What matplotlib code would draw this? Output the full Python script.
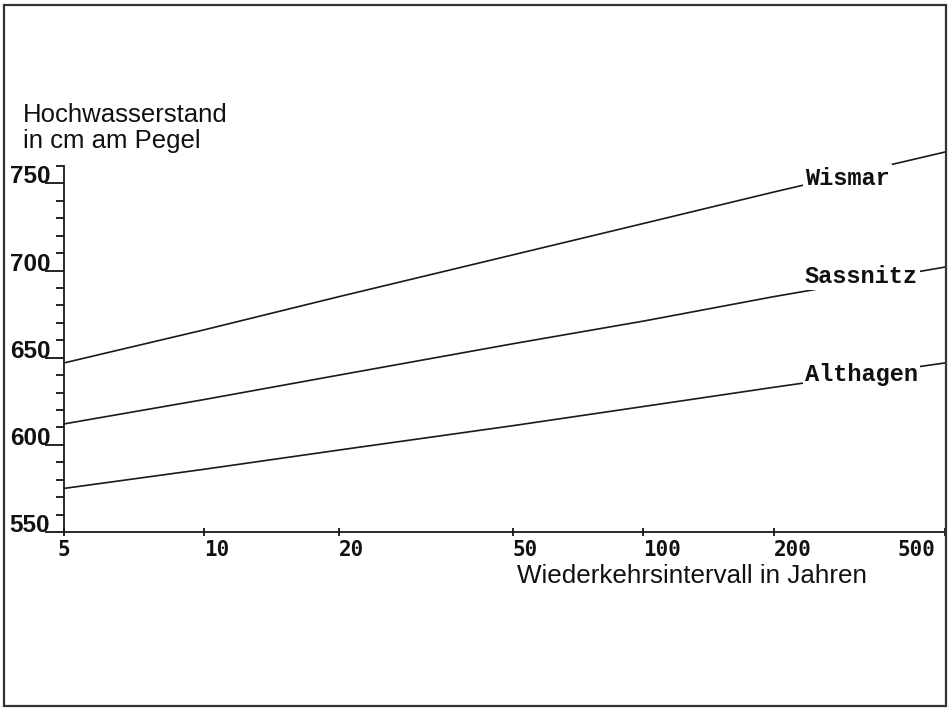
import numpy as np
import matplotlib
matplotlib.use('Agg')
import matplotlib.pyplot as plt
import matplotlib.transforms as mtransforms
from matplotlib.patches import Rectangle

# return periods (years) and flood levels (cm at gauge)
jahre = [5, 10, 20, 50, 100, 200, 500]
wismar = [647, 666, 685, 709, 727, 745, 768]
sassnitz = [612, 626, 640, 658, 671, 685, 702]
althagen = [575, 586, 597, 611, 622, 633, 647]
stationen = ['Wismar', 'Sassnitz', 'Althagen']

y_major = [550, 600, 650, 700, 750]
y_minor = np.arange(550, 761, 10)


# Gumbel reduced variate for the return period axis
def gumbel(t):
    t = np.asarray(t, dtype=float)
    with np.errstate(divide='ignore', invalid='ignore'):
        return -np.log(-np.log(1.0 - 1.0 / t))


def gumbel_inv(u):
    u = np.asarray(u, dtype=float)
    with np.errstate(divide='ignore', invalid='ignore', over='ignore'):
        return 1.0 / (1.0 - np.exp(-np.exp(-u)))


fig = plt.figure(figsize=(9.5, 7.08), dpi=100)
fig.patch.set_facecolor('white')

# outer frame
fig.patches.append(Rectangle((0.0042, 0.003), 0.9916, 0.990, transform=fig.transFigure,
                             fill=False, edgecolor='#333333', lw=1.6))

ax = fig.add_axes([0.0674, 0.2486, 0.9274, 0.517])
ax.set_xscale('function', functions=(gumbel, gumbel_inv))
ax.set_xlim(5, 500)
ax.set_ylim(550, 760)

serien = [wismar, sassnitz, althagen]
for werte in serien:
    ax.plot(jahre, werte, color='#1a1a1a', lw=1.2, clip_on=False, zorder=2)

# station names sit on the lines, masking them
lab_y = [0.967, 0.697, 0.429]
for name, yy in zip(stationen, lab_y):
    ax.text(0.841, yy, name, transform=ax.transAxes, ha='left', va='center',
            family='Liberation Mono', fontweight='bold', fontsize=17, color='#111111',
            bbox=dict(facecolor='white', edgecolor='none', pad=1.5), zorder=3)

for s in ['top', 'right']:
    ax.spines[s].set_visible(False)
for s in ['left', 'bottom']:
    ax.spines[s].set_linewidth(1.3)
    ax.spines[s].set_color('#1a1a1a')

ax.set_xticks(jahre)
ax.set_xticklabels([str(j) for j in jahre], family='DejaVu Sans Mono',
                   fontweight='bold', fontsize=15, color='#111111')
ax.xaxis.set_minor_locator(matplotlib.ticker.NullLocator())
ax.tick_params(axis='x', direction='inout', length=6, width=1.2, pad=3)
xl = ax.get_xticklabels()
shift = mtransforms.ScaledTranslation(-10 / 100, 0, fig.dpi_scale_trans)
for i, lab in enumerate(xl):
    if i == 0:
        lab.set_ha('center')
    elif i == len(xl) - 1:
        lab.set_ha('right')
        lab.set_transform(lab.get_transform() + shift)
    else:
        lab.set_ha('left')

ax.set_yticks(y_major)
ax.set_yticklabels([str(v) for v in y_major], family='Liberation Sans',
                   fontweight='bold', fontsize=17.5, color='#111111')
ax.set_yticks(y_minor, minor=True)
ax.tick_params(axis='y', which='major', direction='out', length=14, width=1.2, pad=-4)
ax.tick_params(axis='y', which='minor', direction='out', length=6, width=1.2)
for lab in ax.get_yticklabels():
    lab.set_va('baseline')

fig.text(0.0242, 0.8277, 'Hochwasserstand', family='Liberation Sans', fontsize=18.5,
         va='baseline', ha='left', color='#111111')
fig.text(0.0242, 0.791, 'in cm am Pegel', family='Liberation Sans', fontsize=18.5,
         va='baseline', ha='left', color='#111111')
fig.text(0.544, 0.1766, 'Wiederkehrsintervall in Jahren', family='Liberation Sans',
         fontsize=18.7, va='baseline', ha='left', color='#111111')

fig.savefig('out.png', dpi=100, facecolor='white')
